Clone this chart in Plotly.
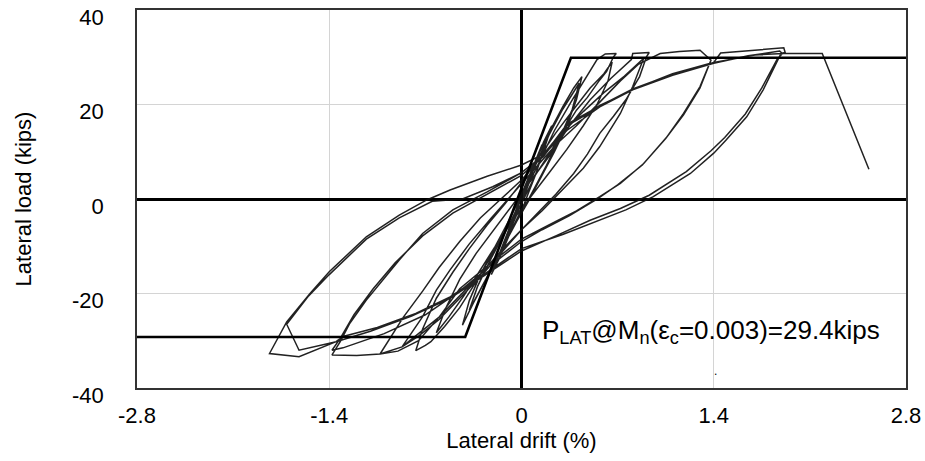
import plotly.graph_objects as go

# Hysteresis trace (lateral drift %, lateral load kips)
drift = [
    0, 0.05, 0.1, 0.15, 0.11, 0.05, 0, -0.06, -0.12, -0.16, -0.11, -0.05, 0, 0.08, 0.16, 0.22,
    0.17, 0.1, 0.02, -0.08, -0.16, -0.22, -0.16, -0.08, 0.0, 0.1,
    0.2, 0.3, 0.38, 0.44, 0.40, 0.33, 0.24, 0.14, 0.05, -0.05, -0.15, -0.26, -0.35, -0.43,
    -0.38, -0.30, -0.2, -0.1, 0.0, 0.1, 0.2, 0.3, 0.42,
    0.37, 0.28, 0.18, 0.08, -0.02, -0.12, -0.22, -0.32, -0.38,
    -0.32, -0.22, -0.1, 0, 0.12, 0.24,
    0.36, 0.48, 0.55, 0.61, 0.69,
    0.67, 0.62, 0.57, 0.48, 0.40, 0.30, 0.2, 0.1, 0.0, -0.1, -0.2, -0.33, -0.45, -0.56, -0.66, -0.7, -0.77,
    -0.72, -0.62, -0.5, -0.38, -0.25, -0.12, 0, 0.12, 0.25, 0.38, 0.5, 0.6, 0.66,
    0.63, 0.55, 0.45, 0.33, 0.2, 0.08, -0.05, -0.18, -0.3, -0.42, -0.53, -0.62,
    -0.55, -0.45, -0.33, -0.2, -0.08, 0.05, 0.2,
    0.35, 0.5, 0.65, 0.8, 0.81, 0.93,
    0.91, 0.86, 0.76, 0.67, 0.57, 0.48, 0.38, 0.25, 0.1, 0.0, -0.15, -0.3, -0.45, -0.6, -0.75, -0.87, -1.03,
    -0.95, -0.86, -0.72, -0.6, -0.45, -0.3, -0.15, 0, 0.15, 0.3, 0.45, 0.6, 0.75, 0.89,
    0.81, 0.72, 0.57, 0.45, 0.3, 0.15, 0, -0.15, -0.3, -0.45, -0.6, -0.75, -0.87,
    -0.72, -0.62, -0.52, -0.38, -0.22, -0.05, 0.1, 0.25,
    0.4, 0.57, 0.72, 0.85, 1.01, 1.15, 1.30, 1.38,
    1.37, 1.30, 1.18, 1.06, 0.89, 0.72, 0.57, 0.4, 0.2, 0, -0.2, -0.45, -0.6, -0.75, -0.9, -1.03, -1.2, -1.38,
    -1.32, -1.25, -1.13, -1.01, -0.89, -0.72, -0.50, -0.25, -0.01, 0.15, 0.33, 0.57, 0.81, 1.1, 1.37,
    1.30, 1.18, 1.05, 0.88, 0.7, 0.55, 0.35, 0.15, 0, -0.2, -0.45, -0.7, -1.0, -1.3, -1.38,
    -1.32, -1.22, -1.08, -0.92, -0.72, -0.5, -0.25, 0, 0.16, 0.33, 0.57, 0.81, 1.1, 1.40,
    1.45, 1.91, 1.92,
    1.89, 1.76, 1.64, 1.49, 1.40, 1.23, 0.96, 0.76, 0.57, 0.3, 0.0, -0.26, -0.52, -0.77, -1.05, -1.30, -1.35,
    -1.62, -1.835,
    -1.71, -1.54, -1.40, -1.13, -0.89, -0.69, -0.52, -0.25, 0.0, 0.16, 0.33, 0.57, 0.81, 1.10, 1.40, 1.65, 1.88, 1.90,
    1.86, 1.75, 1.63, 1.48, 1.38, 1.2, 0.93, 0.72, 0.5, 0.25, 0.0, -0.26, -0.52, -0.8, -1.1, -1.35, -1.62,
    -1.71, -1.55, -1.40, -1.13, -0.89, -0.65, -0.43, -0.21, -0.01, 0.16, 0.33, 0.57, 0.81, 1.1, 1.40, 1.7, 1.91,
    2.19, 2.53,
]
load = [
    0, 4, 8, 11.5, 8, 3, -1, -5, -9.5, -12, -8.5, -4, 0.5, 6, 12, 15.5,
    11, 5, -1, -7, -12.5, -16, -11.5, -5.5, 1, 8,
    14, 19.5, 23.5, 25.9, 21, 15.5, 10, 4.5, -0.5, -5.5, -11, -17, -22, -26.7,
    -21.5, -16, -10.5, -5, 1, 7, 13.5, 19, 24.5,
    19, 13, 7, 1.5, -4, -9.5, -15, -20.5, -23.5,
    -18.5, -12.5, -6, 0, 7.5, 14.5,
    20.5, 26, 29.5, 30.7, 30.8,
    30.1, 27, 25.2, 21.5, 18.8, 14, 9.5, 5, -1, -6, -11, -17.5, -23, -27, -30.2, -31, -32.1,
    -27.5, -21, -15.5, -10.5, -5.5, -1, 3.5, 8.5, 14, 19, 23.5, 26.5, 29.0,
    25, 20, 15.5, 10.5, 5.5, 1, -4, -9.5, -15, -20.5, -25, -28.3,
    -23, -17, -11.5, -6.5, -2, 3, 9,
    15.5, 21, 25.5, 29.5, 30.8, 31.0,
    30.1, 25.9, 21.0, 17.5, 13.9, 9.5, 5.4, 1, -3.5, -6.5, -11.5, -16.5, -21, -25.5, -29, -31.3, -32.8,
    -29, -25, -19.5, -14.5, -9, -4, 0, 4, 9, 14, 18.5, 22.5, 26, 29.8,
    23.8, 18.1, 11.1, 6.5, 2, -2.5, -6.5, -11, -16, -20.5, -25, -28.5, -31.3,
    -24.9, -19.3, -15.0, -9.5, -4, 1.5, 6.5, 11.5,
    15.5, 20.5, 25, 28.5, 30.8, 31.2, 31.5, 29.4,
    28.7, 23.8, 18.1, 13.2, 7.5, 3.3, 0.5, -2.5, -5.5, -8.5, -13, -19, -25, -30, -32.2, -32.8, -33.1, -33.0,
    -30.2, -26.3, -21.4, -17.1, -12.9, -7.3, -2.3, 1.5, 5.4, 9, 14.5, 19.5, 23.2, 26.5, 28.7,
    23.5, 17.8, 12.8, 7.2, 3, 0, -3.5, -6.5, -9, -13.5, -19.5, -24.5, -28.5, -31.5, -32,
    -29.5, -24.5, -19, -13.5, -7.8, -3, 1, 5, 9, 15.5, 19.8, 23.1, 26.3, 28.9,
    30.9, 32.0, 31.0,
    30.8, 23.1, 17.4, 12.5, 9.7, 5.4, 0.5, -2.3, -4.4, -7.5, -10.5, -15.7, -20.7, -24.2, -27.2, -29.1, -30.2,
    -33.4, -32.7,
    -26, -20, -15.4, -8, -3.4, -0.2, 1.9, 4.8, 7.2, 9.5, 15.5, 19.5, 23.1, 26.2, 28.7, 30.3, 31.3, 30.8,
    29.5, 23.5, 18, 13, 10.2, 5.8, 0.8, -2, -4.5, -7.8, -11, -16, -21, -24.8, -28, -30.2, -32.0,
    -26.5, -20.5, -16, -8.5, -4, -0.5, 0, 2.6, 5.4, 9.2, 15.8, 19.7, 23.3, 26.4, 28.9, 30.5, 30.8,
    30.8, 6.3,
]

# Idealised bilinear capacity line
env_drift = [-2.8, -0.41, 0.36, 2.8]
env_load = [-29.2, -29.2, 29.9, 29.9]

x_ticks = [-2.8, -1.4, 0, 1.4, 2.8]
y_ticks = [-40, -20, 0, 20, 40]

FONT = "Arial, Liberation Sans, sans-serif"

fig = go.Figure()
fig.add_trace(go.Scatter(x=drift, y=load, mode="lines",
                         line=dict(color="rgba(15,15,15,0.92)", width=1.5),
                         showlegend=False, hoverinfo="skip"))
fig.add_trace(go.Scatter(x=env_drift, y=env_load, mode="lines",
                         line=dict(color="black", width=2.6),
                         showlegend=False, hoverinfo="skip"))

fig.add_annotation(x=0.135, y=-28.0, xref="x", yref="y", xanchor="left", yanchor="middle",
                   text="P<sub>LAT</sub>@M<sub>n</sub>(ε<sub>c</sub>=0.003)=29.4kips",
                   showarrow=False, font=dict(family=FONT, size=26, color="black"))
fig.add_annotation(x=1.41, y=-36.4, xref="x", yref="y", text=".", showarrow=False,
                   font=dict(family=FONT, size=12, color="black"))

fig.update_layout(
    width=925, height=461,
    margin=dict(l=137, r=19, t=10, b=73, autoexpand=False),
    paper_bgcolor="white", plot_bgcolor="white",
    font=dict(family=FONT, size=22, color="black"),
    xaxis=dict(range=[-2.8, 2.8], tickvals=x_ticks, ticktext=[str(v) for v in x_ticks],
               showgrid=True, gridcolor="#d4d4d4", gridwidth=1,
               zeroline=True, zerolinecolor="black", zerolinewidth=2.6,
               showline=True, linecolor="#333333", linewidth=1.5, mirror=True,
               ticks="", ticklabelstandoff=7, ticklabeloverflow="allow", automargin=False,
               title=dict(text="Lateral drift (%)", standoff=4, font=dict(size=22))),
    yaxis=dict(range=[-40, 40], tickvals=y_ticks, ticktext=[str(v) for v in y_ticks],
               showgrid=True, gridcolor="#d4d4d4", gridwidth=1,
               zeroline=True, zerolinecolor="black", zerolinewidth=2.6,
               showline=True, linecolor="#333333", linewidth=1.5, mirror=True,
               ticks="", ticklabelstandoff=27, ticklabelshift=7, ticklabeloverflow="allow",
               automargin=False,
               title=dict(text="Lateral load (kips)", standoff=34, font=dict(size=22))),
)

fig.write_html("out.html")
